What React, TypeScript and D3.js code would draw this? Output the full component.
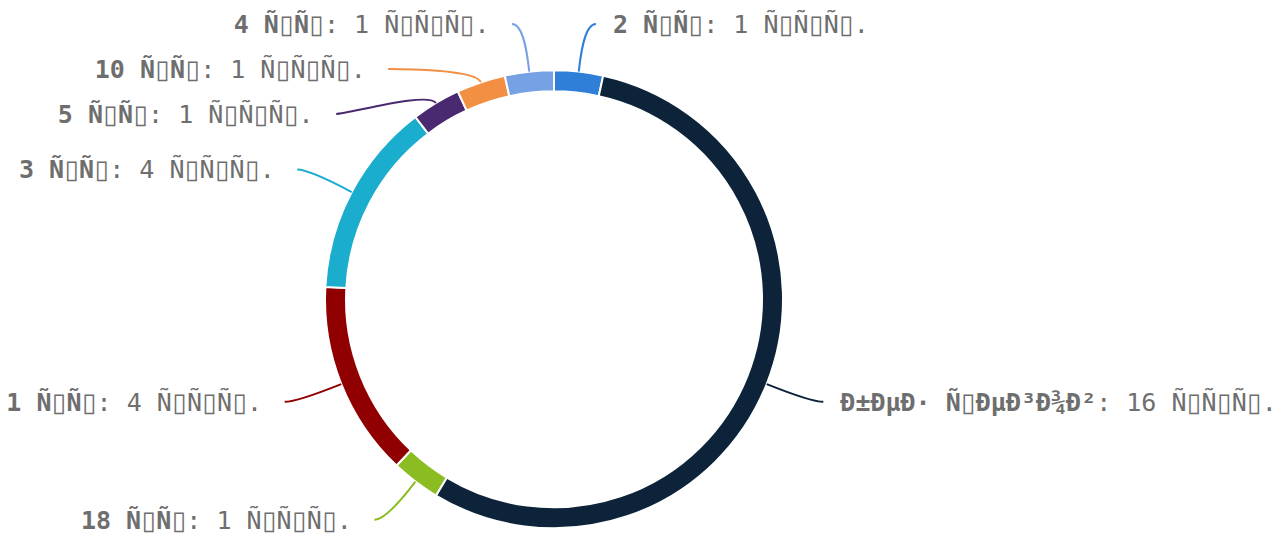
import { useEffect, useRef } from "react";
import * as d3 from "d3";

// labels as the source page showed them (mojibake, with missing-glyph boxes)
const names = [
  "2 Ñ▯Ñ▯",
  "Ð±ÐµÐ· Ñ▯ÐµÐ³Ð¾Ð²",
  "18 Ñ▯Ñ▯",
  "1 Ñ▯Ñ▯",
  "3 Ñ▯Ñ▯",
  "5 Ñ▯Ñ▯",
  "10 Ñ▯Ñ▯",
  "4 Ñ▯Ñ▯",
];
const counts = [1, 16, 1, 4, 4, 1, 1, 1];
const unit = "Ñ▯Ñ▯Ñ▯.";
const colors = ["#2f7ed8", "#0d233a", "#8bbc21", "#910000", "#1aadce", "#492970", "#f28f43", "#77a1e5"];

const width = 1285;
const height = 539;

export default function App() {
  const svgRef = useRef<SVGSVGElement | null>(null);

  useEffect(() => {
    if (!svgRef.current) return;
    const svg = d3.select(svgRef.current);
    svg.selectAll("*").remove();

    const cx = 554, cy = 299.3;
    const outer = 229, inner = 208;
    const len1 = 48, len2 = 12, lineGap = 45;
    const rL = outer + len1;
    const fontSize = 25;
    const cell = fontSize * 0.602; // monospace advance

    const pie = d3.pie<number>().sort(null).value(d => d);
    const arcs = pie(counts);
    const arc = d3.arc<d3.PieArcDatum<number>>().innerRadius(inner).outerRadius(outer);

    const g = svg.append("g").attr("transform", `translate(${cx},${cy})`);
    g.selectAll("path")
      .data(arcs)
      .enter()
      .append("path")
      .attr("d", arc)
      .attr("fill", (_d, i) => colors[i])
      .attr("stroke", "#fff")
      .attr("stroke-width", 2);

    // label layout: radial point, then horizontal, push down on overlap
    const labels = arcs.map((a, i) => {
      const mid = (a.startAngle + a.endAngle) / 2;
      const s = Math.sin(mid), c = Math.cos(mid);
      return {
        i, s, c,
        side: s >= 0 ? 1 : -1,
        p0: [cx + outer * s, cy - outer * c],
        y: cy - rL * c,
      };
    });
    [1, -1].forEach(side => {
      const list = labels.filter(l => l.side === side).sort((a, b) => a.y - b.y);
      for (let k = 1; k < list.length; k++) {
        if (list[k].y < list[k - 1].y + lineGap) list[k].y = list[k - 1].y + lineGap;
      }
    });

    // width of the box glyph, to centre it in its cell
    const probe = svg.append("text")
      .attr("font-family", "'DejaVu Sans', sans-serif")
      .attr("font-size", 26)
      .text("▯");
    const boxW = (probe.node() as SVGTextElement).getComputedTextLength();
    probe.remove();

    labels.forEach(l => {
      const dy = l.y - cy;
      const dx = Math.sqrt(Math.max(0, rL * rL - dy * dy));
      const p1 = [cx + l.side * dx, l.y];
      const p2 = [p1[0] + l.side * len2, l.y];
      const c1 = [l.p0[0] + l.s * 14, l.p0[1] - l.c * 14];
      const path = d3.path();
      path.moveTo(l.p0[0], l.p0[1]);
      path.bezierCurveTo(c1[0], c1[1], p1[0], p1[1], p2[0], p2[1]);
      svg.append("path")
        .attr("d", path.toString())
        .attr("fill", "none")
        .attr("stroke", colors[l.i])
        .attr("stroke-width", 2);

      const parts = [
        { str: names[l.i], bold: true },
        { str: `: ${counts[l.i]} ${unit}`, bold: false },
      ];
      const chars = parts.flatMap(p => Array.from(p.str).map(ch => ({ ch, bold: p.bold })));
      const total = chars.length * cell;
      let x = l.side > 0 ? p2[0] + 17 : p2[0] - 22.5 - total;

      const text = svg.append("text")
        .attr("y", l.y)
        .attr("dy", "0.35em")
        .attr("font-family", "'DejaVu Sans Mono', monospace")
        .attr("font-size", fontSize)
        .attr("fill", "#6e6e6e");
      chars.forEach(c => {
        if (c.ch === "▯") {
          text.append("tspan")
            .attr("x", x + (cell - boxW) / 2)
            .attr("font-family", "'DejaVu Sans', sans-serif")
            .attr("font-size", 26)
            .attr("font-weight", "normal")
            .text(c.ch);
        } else if (c.ch !== " ") {
          text.append("tspan")
            .attr("x", x)
            .attr("font-weight", c.bold ? "bold" : "normal")
            .text(c.ch);
        }
        x += cell;
      });
    });
  }, []);

  return (
    <svg
      ref={svgRef}
      width={width}
      height={height}
      style={{ position: "absolute", left: 0, top: 0, background: "#fff" }}
    />
  );
}
